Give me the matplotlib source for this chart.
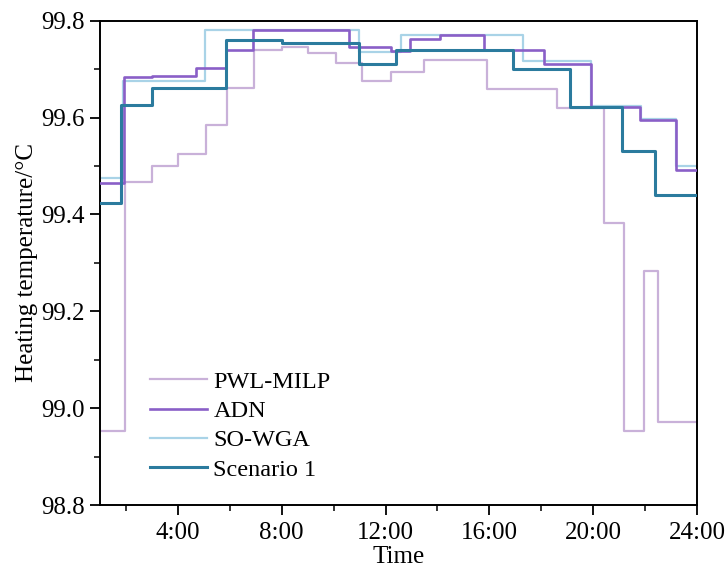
import numpy as np
import matplotlib
matplotlib.use("Agg")
import matplotlib.pyplot as plt
from matplotlib.ticker import MultipleLocator, FixedLocator

plt.rcParams['font.family'] = ['Liberation Serif', 'DejaVu Serif']

# step start times (hours) and held values
pwl_t = [1, 1.97, 3.0, 4.0, 5.1, 5.9, 6.95, 8.0, 9.0, 10.1, 11.1, 12.2, 13.5,
         15.9, 18.6, 20.4, 21.2, 21.95, 22.5]
pwl_v = [98.952, 99.467, 99.499, 99.524, 99.584, 99.662, 99.739, 99.745, 99.733,
         99.712, 99.676, 99.694, 99.718, 99.660, 99.620, 99.382, 98.952, 99.283, 98.971]

adn_t = [1, 1.93, 3.0, 4.7, 5.85, 6.9, 10.6, 12.2, 12.95, 14.1, 15.8, 18.1,
         19.9, 21.8, 23.2]
adn_v = [99.464, 99.683, 99.686, 99.702, 99.739, 99.781, 99.746, 99.737, 99.762,
         99.770, 99.739, 99.710, 99.622, 99.596, 99.492]

so_t = [1, 1.9, 5.05, 10.96, 12.58, 17.28, 19.9, 21.85, 23.2]
so_v = [99.476, 99.676, 99.780, 99.735, 99.771, 99.716, 99.624, 99.598, 99.499]

sc1_t = [1, 1.81, 2.99, 5.85, 8.0, 10.96, 12.4, 16.9, 19.1, 21.1, 22.4]
sc1_v = [99.423, 99.626, 99.661, 99.760, 99.755, 99.710, 99.739, 99.700, 99.622,
         99.532, 99.440]

x_ticks = [4, 8, 12, 16, 20, 24]
x_labels = ['4:00', '8:00', '12:00', '16:00', '20:00', '24:00']


def steps(t, v, end=24):
    return list(t) + [end], list(v) + [v[-1]]


fig = plt.figure(figsize=(7.27, 5.74), dpi=100)
ax = fig.add_axes([0.1376, 0.1202, 0.8211, 0.8437])

series = [
    (pwl_t, pwl_v, 'PWL-MILP', '#c9b1d9', 1.6, 1),
    (adn_t, adn_v, 'ADN', '#8a5fc7', 1.9, 3),
    (so_t, so_v, 'SO-WGA', '#a9d3e7', 1.6, 2),
    (sc1_t, sc1_v, 'Scenario 1', '#2b7b9e', 2.2, 4),
]
for t, v, lab, col, lw, z in series:
    xs, ys = steps(t, v)
    ax.plot(xs, ys, drawstyle='steps-post', color=col, lw=lw, label=lab, zorder=z)

ax.set_xlim(1, 24)
ax.set_ylim(98.8, 99.8)
ax.xaxis.set_major_locator(FixedLocator(x_ticks))
ax.set_xticklabels(x_labels)
ax.xaxis.set_minor_locator(MultipleLocator(2))
ax.yaxis.set_major_locator(MultipleLocator(0.2))
ax.yaxis.set_minor_locator(MultipleLocator(0.1))
ax.yaxis.set_major_formatter(matplotlib.ticker.FormatStrFormatter('%.1f'))
ax.tick_params(which='major', direction='out', length=7, width=1.3, labelsize=18, pad=4)
ax.tick_params(axis='x', which='major', pad=5)
ax.tick_params(which='minor', direction='out', length=4, width=1.1)
for s in ax.spines.values():
    s.set_linewidth(1.4)

ax.set_xlabel('Time', fontsize=18, labelpad=2)
ax.set_ylabel('Heating temperature/°C', fontsize=18, labelpad=2)

ax.legend(loc='lower left', bbox_to_anchor=(0.084, 0.05), frameon=False,
          fontsize=17.5, borderpad=0, borderaxespad=0, handlelength=2.35,
          handletextpad=0.25, labelspacing=0.3)

fig.savefig('out.png', dpi=100)
